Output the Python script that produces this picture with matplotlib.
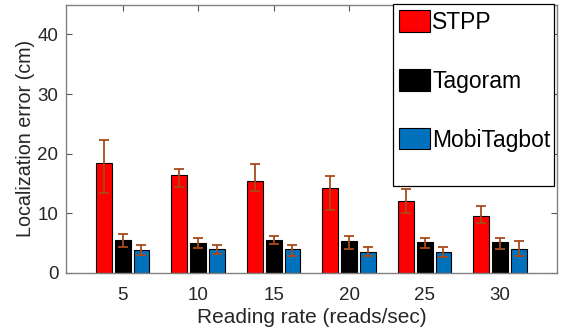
import matplotlib.pyplot as plt
import matplotlib.patches as mpatches
import numpy as np

# data
rates = ["5", "10", "15", "20", "25", "30"]
methods = ["STPP", "Tagoram", "MobiTagbot"]

stpp = [18.35, 16.45, 15.35, 14.2, 12.0, 9.45]
stpp_lo = [13.4, 14.4, 13.75, 10.5, 10.1, 8.4]
stpp_hi = [22.2, 17.4, 18.2, 16.3, 14.0, 11.2]

tago = [5.45, 5.0, 5.5, 5.3, 5.1, 5.1]
tago_lo = [4.35, 4.15, 4.75, 4.0, 4.2, 4.0]
tago_hi = [6.45, 5.8, 6.2, 6.2, 5.8, 5.8]

mobi = [3.8, 4.0, 3.95, 3.45, 3.45, 3.95]
mobi_lo = [3.0, 3.15, 2.8, 2.8, 2.6, 2.8]
mobi_hi = [4.65, 4.65, 4.65, 4.25, 4.25, 5.25]

colors = ["#FF0000", "#000000", "#0072BD"]
err_color = "#A84A1A"

plt.rcParams["font.family"] = ["Liberation Sans", "DejaVu Sans"]

W, H = 566, 333
fig = plt.figure(figsize=(W / 100, H / 100), dpi=100)
ax = fig.add_axes([66 / W, (H - 272.7) / H, (556.7 - 66) / W, (272.7 - 4.7) / H])

x = np.arange(1, len(rates) + 1)
series = [(stpp, stpp_lo, stpp_hi), (tago, tago_lo, tago_hi), (mobi, mobi_lo, mobi_hi)]
offs = [-0.25, 0, 0.25]
handles = []
for (vals, lo, hi), off, c, name in zip(series, offs, colors, methods):
    vals = np.array(vals)
    b = ax.bar(x + off, vals, 0.21, color=c, edgecolor="black", lw=0.8, label=name, zorder=2)
    handles.append(b)
    yerr = [vals - np.array(lo), np.array(hi) - vals]
    ax.errorbar(x + off, vals, yerr=yerr, fmt="none", ecolor=err_color, elinewidth=1.3,
                capsize=3.5, capthick=1.3, zorder=3)

ax.set_xlim(0.25, 6.75)
ax.set_ylim(0, 45)
ax.set_xticks(x)
ax.set_xticklabels(rates)
ax.set_yticks([0, 10, 20, 30, 40])
ax.tick_params(direction="in", top=True, right=True, labelsize=13.5, length=4,
               color="#555555", labelcolor="#262626")
ax.tick_params(axis="x", pad=10)
ax.tick_params(axis="y", pad=5.5)
for s in ax.spines.values():
    s.set_color("#808080")
    s.set_linewidth(1.0)
ax.set_xlabel("Reading rate (reads/sec)", fontsize=15, color="#262626", labelpad=3)
ax.set_ylabel("Localization error (cm)", fontsize=14.2, color="#262626", labelpad=2)

# legend (frame drawn separately, MATLAB style)
leg = fig.legend(handles=handles, labels=methods, loc="upper left",
                 bbox_to_anchor=(397 / W, 1 - 8 / H), frameon=False, fontsize=16.5,
                 handlelength=1.35, handleheight=1.05, handletextpad=0.08,
                 labelspacing=1.55, borderpad=0.1, borderaxespad=0)
fig.add_artist(mpatches.Rectangle((393.3 / W, 1 - 186 / H), (554 - 393.3) / W, (186 - 4) / H,
                                  transform=fig.transFigure, facecolor="white",
                                  edgecolor="black", lw=0.9, zorder=4))
leg.set_zorder(5)

fig.savefig("out.png", dpi=100)
